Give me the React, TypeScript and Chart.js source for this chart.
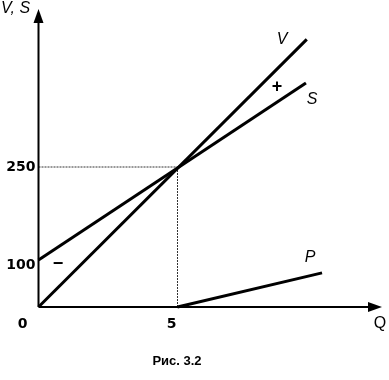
import React, { useEffect, useRef } from "react";
import { Chart, registerables } from "chart.js";

Chart.register(...registerables);

// Data (Q on x, value on y)
const qV = [0, 9.65];
const vVals = [0, 478];
const qS = [0, 9.62];
const sVals = [84, 400];
const qP = [5, 10.2];
const pVals = [0, 61];

const eqQ = 5;
const eqValue = 250;

const xTickValues = [0, 5];
const xTickLabels = ["0", "5"];
const yTickValues = [84, 250];
const yTickLabels = ["100", "250"];

const curveLabels = ["V", "S", "P", "+", "−"];
const curveLabelQ = [8.76, 9.84, 9.77, 8.58, 0.7];
const curveLabelY = [477, 370, 89, 393, 77];

const yAxisTitle = "V, S";
const xAxisTitle = "Q";
const caption = "Рис. 3.2";

const X_MIN = 0, X_MAX = 12, Y_MIN = 0, Y_MAX = 500;

function pts(xs: number[], ys: number[]) {
  return xs.map((x, i) => ({ x, y: ys[i] }));
}

const decorPlugin = {
  id: "decor",
  beforeDatasetsDraw(chart: any) {
    const { ctx, scales } = chart;
    const xs = scales.x, ys = scales.y;
    const ox = xs.getPixelForValue(0);
    const oy = ys.getPixelForValue(0);
    const ex = xs.getPixelForValue(eqQ);
    const ey = ys.getPixelForValue(eqValue);
    ctx.save();
    // reference lines
    ctx.strokeStyle = "#333";
    ctx.lineWidth = 1;
    ctx.setLineDash([2, 1]);
    ctx.beginPath();
    ctx.moveTo(ox, ey);
    ctx.lineTo(ex, ey);
    ctx.moveTo(ex, ey);
    ctx.lineTo(ex, oy);
    ctx.stroke();
    ctx.setLineDash([]);
    // axes
    ctx.strokeStyle = "#000";
    ctx.fillStyle = "#000";
    ctx.lineWidth = 2;
    ctx.beginPath();
    ctx.moveTo(ox, oy);
    ctx.lineTo(ox, 20);
    ctx.moveTo(ox, oy);
    ctx.lineTo(372, oy);
    ctx.stroke();
    // arrow heads
    ctx.beginPath();
    ctx.moveTo(ox, 9);
    ctx.lineTo(ox - 5, 23);
    ctx.lineTo(ox + 5, 23);
    ctx.closePath();
    ctx.fill();
    ctx.beginPath();
    ctx.moveTo(382, oy);
    ctx.lineTo(368, oy - 5);
    ctx.lineTo(368, oy + 5);
    ctx.closePath();
    ctx.fill();
    ctx.restore();
  },
  afterDraw(chart: any) {
    const { ctx, scales } = chart;
    const xs = scales.x, ys = scales.y;
    const ox = xs.getPixelForValue(0);
    const oy = ys.getPixelForValue(0);
    ctx.save();
    ctx.fillStyle = "#000";
    // numeric ticks
    ctx.font = "bold 14px 'DejaVu Sans'";
    ctx.textBaseline = "middle";
    ctx.textAlign = "right";
    yTickValues.forEach((v, i) => {
      const y = ys.getPixelForValue(v) + (i === 0 ? 5 : 0);
      ctx.fillText(yTickLabels[i], ox - 3, y);
    });
    ctx.textAlign = "center";
    xTickValues.forEach((v, i) => {
      const x = xs.getPixelForValue(v) - (i === 0 ? 16 : 6);
      ctx.fillText(xTickLabels[i], x, oy + 17);
    });
    // axis titles
    ctx.font = "italic 16px 'Liberation Sans'";
    ctx.textAlign = "left";
    ctx.textBaseline = "top";
    ctx.fillText(yAxisTitle, 1, 1);
    ctx.font = "16px 'Liberation Sans'";
    ctx.textAlign = "center";
    ctx.textBaseline = "middle";
    ctx.fillText(xAxisTitle, 380, oy + 17);
    // curve labels
    curveLabels.forEach((t, i) => {
      const x = xs.getPixelForValue(curveLabelQ[i]);
      const y = ys.getPixelForValue(curveLabelY[i]);
      if (t === "+" || t === "−") {
        ctx.font = "bold 18px 'Liberation Sans'";
      } else {
        ctx.font = "italic 16px 'Liberation Sans'";
      }
      ctx.fillText(t, x, y);
    });
    // caption
    ctx.font = "bold 13px 'Liberation Sans'";
    ctx.fillText(caption, 177, 361);
    ctx.restore();
  },
};

export default function App() {
  const ref = useRef<HTMLCanvasElement | null>(null);
  useEffect(() => {
    if (!ref.current) return;
    const pxPerQ = 27.8;
    const pxPerV = 0.56;
    const left = 38.5;
    const originY = 307;
    const right = 389 - (left + (X_MAX - X_MIN) * pxPerQ);
    const top = originY - (Y_MAX - Y_MIN) * pxPerV;
    const bottom = 380 - originY;
    const lineDs = (data: any) => ({
      data,
      showLine: true,
      borderColor: "#000",
      borderWidth: 3,
      pointRadius: 0,
      fill: false,
      clip: false as any,
    });
    const chart = new Chart(ref.current, {
      type: "scatter",
      data: {
        datasets: [
          lineDs(pts(qV, vVals)),
          lineDs(pts(qS, sVals)),
          lineDs(pts(qP, pVals)),
        ],
      },
      options: {
        responsive: false,
        animation: false,
        layout: { padding: { left, right, top, bottom } },
        plugins: { legend: { display: false }, tooltip: { enabled: false } },
        scales: {
          x: { type: "linear", display: false, min: X_MIN, max: X_MAX },
          y: { type: "linear", display: false, min: Y_MIN, max: Y_MAX },
        },
      },
      plugins: [decorPlugin],
    });
    return () => chart.destroy();
  }, []);
  return (
    <div style={{ position: "fixed", left: 0, top: 0, width: 389, height: 380, background: "#fff" }}>
      <canvas ref={ref} width={389} height={380} style={{ width: 389, height: 380 }} />
    </div>
  );
}
